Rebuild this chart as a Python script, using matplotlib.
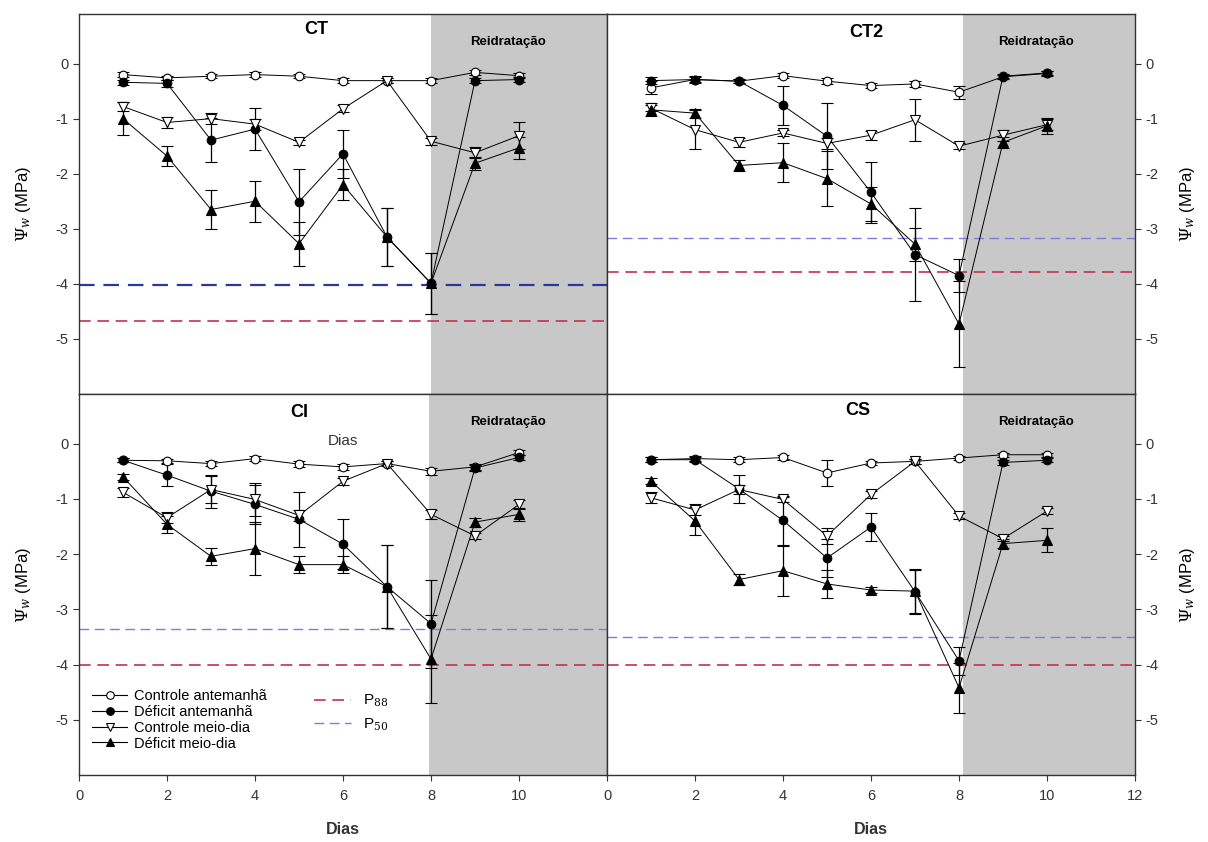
import matplotlib.pyplot as plt
from matplotlib.lines import Line2D
import numpy as np

plt.rcParams["font.family"] = ["Liberation Sans", "DejaVu Sans"]
plt.rcParams["mathtext.fontset"] = "dejavuserif"

days = np.arange(1, 11)

# CT
ct_ca = [-0.20, -0.26, -0.23, -0.20, -0.23, -0.31, -0.31, -0.31, -0.16, -0.22]
ct_ca_err = [0.04, 0.04, 0.04, 0.04, 0.04, 0.04, 0.04, 0.04, 0.04, 0.04]
ct_da = [-0.34, -0.36, -1.39, -1.19, -2.51, -1.64, -3.15, -3.99, -0.31, -0.29]
ct_da_err = [0.05, 0.06, 0.40, 0.38, 0.60, 0.43, 0.53, 0.55, 0.05, 0.05]
ct_cm = [-0.78, -1.07, -1.00, -1.10, -1.43, -0.82, -0.31, -1.41, -1.62, -1.31]
ct_cm_err = [0.08, 0.10, 0.10, 0.10, 0.05, 0.06, 0.04, 0.06, 0.10, 0.25]
ct_dm = [-1.00, -1.68, -2.65, -2.50, -3.27, -2.20, -3.15, -3.99, -1.81, -1.53]
ct_dm_err = [0.30, 0.18, 0.36, 0.37, 0.40, 0.28, 0.53, 0.55, 0.12, 0.20]

# CT2
ct2_ca = [-0.44, -0.29, -0.32, -0.22, -0.32, -0.40, -0.37, -0.52, -0.24, -0.18]
ct2_ca_err = [0.12, 0.05, 0.04, 0.04, 0.05, 0.05, 0.05, 0.12, 0.04, 0.04]
ct2_da = [-0.31, -0.29, -0.32, -0.76, -1.32, -2.34, -3.47, -3.85, -0.23, -0.17]
ct2_da_err = [0.06, 0.06, 0.04, 0.36, 0.60, 0.55, 0.85, 0.30, 0.04, 0.04]
ct2_cm = [-0.81, -1.20, -1.43, -1.26, -1.45, -1.30, -1.02, -1.50, -1.30, -1.11]
ct2_cm_err = [0.06, 0.36, 0.08, 0.05, 0.10, 0.08, 0.38, 0.05, 0.10, 0.10]
ct2_dm = [-0.84, -0.90, -1.85, -1.80, -2.09, -2.55, -3.28, -4.73, -1.43, -1.13]
ct2_dm_err = [0.12, 0.08, 0.10, 0.35, 0.50, 0.30, 0.30, 0.78, 0.10, 0.15]

# CI
ci_ca = [-0.30, -0.31, -0.36, -0.27, -0.37, -0.42, -0.36, -0.50, -0.42, -0.16]
ci_ca_err = [0.04, 0.04, 0.04, 0.04, 0.05, 0.06, 0.04, 0.06, 0.05, 0.04]
ci_da = [-0.30, -0.57, -0.86, -1.10, -1.37, -1.82, -2.59, -3.26, -0.44, -0.25]
ci_da_err = [0.04, 0.20, 0.30, 0.35, 0.50, 0.45, 0.75, 0.80, 0.05, 0.05]
ci_cm = [-0.88, -1.34, -0.83, -1.01, -1.30, -0.68, -0.36, -1.28, -1.67, -1.10]
ci_cm_err = [0.08, 0.10, 0.25, 0.30, 0.10, 0.06, 0.04, 0.08, 0.06, 0.08]
ci_dm = [-0.60, -1.46, -2.04, -1.90, -2.19, -2.19, -2.59, -3.90, -1.42, -1.28]
ci_dm_err = [0.05, 0.15, 0.15, 0.48, 0.15, 0.15, 0.75, 0.80, 0.08, 0.12]

# CS
cs_ca = [-0.29, -0.27, -0.29, -0.25, -0.53, -0.35, -0.32, -0.26, -0.20, -0.20]
cs_ca_err = [0.04, 0.04, 0.04, 0.04, 0.23, 0.04, 0.04, 0.04, 0.04, 0.04]
cs_da = [-0.29, -0.29, -0.82, -1.39, -2.07, -1.51, -2.68, -3.93, -0.34, -0.30]
cs_da_err = [0.04, 0.04, 0.25, 0.45, 0.35, 0.26, 0.40, 0.25, 0.04, 0.04]
cs_cm = [-0.98, -1.20, -0.83, -1.01, -1.67, -0.92, -0.32, -1.31, -1.72, -1.22]
cs_cm_err = [0.10, 0.10, 0.08, 0.05, 0.15, 0.06, 0.04, 0.05, 0.05, 0.05]
cs_dm = [-0.68, -1.40, -2.46, -2.30, -2.54, -2.65, -2.67, -4.42, -1.81, -1.75]
cs_dm_err = [0.05, 0.25, 0.10, 0.45, 0.25, 0.06, 0.40, 0.45, 0.08, 0.22]

# thresholds (P88, P50)
p88 = {"CT": -4.68, "CT2": -3.78, "CI": -4.01, "CS": -4.01}
p50 = {"CT": -4.02, "CT2": -3.17, "CI": -3.35, "CS": -3.50}

labels = ["Controle antemanhã", "Déficit antemanhã", "Controle meio-dia", "Déficit meio-dia"]
styles = [("o", "white"), ("o", "black"), ("v", "white"), ("^", "black")]

panels = {
    "CT": [(ct_ca, ct_ca_err), (ct_da, ct_da_err), (ct_cm, ct_cm_err), (ct_dm, ct_dm_err)],
    "CT2": [(ct2_ca, ct2_ca_err), (ct2_da, ct2_da_err), (ct2_cm, ct2_cm_err), (ct2_dm, ct2_dm_err)],
    "CI": [(ci_ca, ci_ca_err), (ci_da, ci_da_err), (ci_cm, ci_cm_err), (ci_dm, ci_dm_err)],
    "CS": [(cs_ca, cs_ca_err), (cs_da, cs_da_err), (cs_cm, cs_cm_err), (cs_dm, cs_dm_err)],
}

fig = plt.figure(figsize=(12.08, 8.42), dpi=100)
W, H = 1208, 842
x0, xm, x1 = 79, 607, 1135
y0, ym, y1 = 14, 394, 775
boxes = {
    "CT": [x0 / W, 1 - ym / H, (xm - x0) / W, (ym - y0) / H],
    "CT2": [xm / W, 1 - ym / H, (x1 - xm) / W, (ym - y0) / H],
    "CI": [x0 / W, 1 - y1 / H, (xm - x0) / W, (y1 - ym) / H],
    "CS": [xm / W, 1 - y1 / H, (x1 - xm) / W, (y1 - ym) / H],
}
title_pos = {"CT": (5.4, 0.62), "CT2": (5.9, 0.56), "CI": (5.0, 0.56), "CS": (5.7, 0.6)}
shade_start = {"CT": 8.0, "CT2": 8.08, "CI": 7.95, "CS": 8.08}
p50_col = {"CT": "#2a3a9a", "CT2": "#7b7fd8", "CI": "#7b7fd8", "CS": "#7b7fd8"}
p50_lw = {"CT": 1.6, "CT2": 1.0, "CI": 1.0, "CS": 1.0}

for name, series in panels.items():
    ax = fig.add_axes(boxes[name])
    ax.set_xlim(0, 12)
    ax.set_ylim(-6, 0.9)
    ax.axvspan(shade_start[name], 12, color="#c8c8c8", lw=0, zorder=0)
    ax.axhline(p88[name], color="#c4324a", ls=(0, (7, 4)), lw=1.2, zorder=1)
    ax.axhline(p50[name], color=p50_col[name], ls=(0, (7, 4)), lw=p50_lw[name], zorder=1)
    for (vals, err), (mk, fc) in zip(series, styles):
        ax.errorbar(days, vals, yerr=err, color="black", lw=0.7, elinewidth=0.9,
                    capsize=4, capthick=0.9, marker=mk, markersize=6.2 if mk == "o" else 7,
                    markerfacecolor=fc, markeredgecolor="black", markeredgewidth=0.8, zorder=3)
    ax.text(*title_pos[name], name, fontsize=13, fontweight="bold", ha="center", va="center")
    ax.text(9.75, 0.4, "Reidratação", fontsize=9.5, fontweight="bold", ha="center", va="center")
    ax.set_yticks([0, -1, -2, -3, -4, -5])
    ax.set_yticklabels(["0", "-1", "-2", "-3", "-4", "-5"])
    ax.tick_params(labelsize=10.5, colors="#333333", direction="out", length=4, width=0.8)
    for sp in ax.spines.values():
        sp.set_linewidth(1.0)
        sp.set_color("#333333")
    if name in ("CT2", "CS"):
        ax.yaxis.tick_right()
        ax.yaxis.set_label_position("right")
        ax.set_ylabel(r"$\Psi_w$ (MPa)", fontsize=12, rotation=90, labelpad=14)
    else:
        ax.set_ylabel(r"$\Psi_w$ (MPa)", fontsize=12, labelpad=16)
    if name in ("CT", "CT2"):
        ax.set_xticks([])
    else:
        if name == "CI":
            ax.set_xticks([0, 2, 4, 6, 8, 10])
        else:
            ax.set_xticks([0, 2, 4, 6, 8, 10, 12])
        ax.tick_params(axis="x", pad=6)
        ax.set_xlabel("Dias", fontsize=11.5, labelpad=14, fontweight="bold", color="#333333")
    if name == "CI":
        ax.text(6.0, 0.05, "Dias", fontsize=11, ha="center", va="center", color="#333333")
        handles = [Line2D([], [], color="black", lw=0.8, marker=mk, markersize=5.5,
                          markerfacecolor=fc, markeredgecolor="black", markeredgewidth=0.8)
                   for mk, fc in styles]
        leg1 = ax.legend(handles, labels, loc="upper left", bbox_to_anchor=(0.025, 0.225),
                         frameon=False, fontsize=10.5, handlelength=2.4, handletextpad=0.5,
                         labelspacing=0.12, borderpad=0, borderaxespad=0)
        ax.add_artist(leg1)
        dash_handles = [Line2D([], [], color="#c4324a", ls=(0, (7, 4)), lw=1.2),
                        Line2D([], [], color="#7b7fd8", ls=(0, (7, 4)), lw=1.0)]
        ax.legend(dash_handles, ["P$_{88}$", "P$_{50}$"], loc="upper left",
                  bbox_to_anchor=(0.445, 0.215), frameon=False, fontsize=11,
                  handlelength=2.4, handletextpad=0.8, labelspacing=0.45, borderpad=0,
                  borderaxespad=0)

fig.savefig("out.png", dpi=100)
